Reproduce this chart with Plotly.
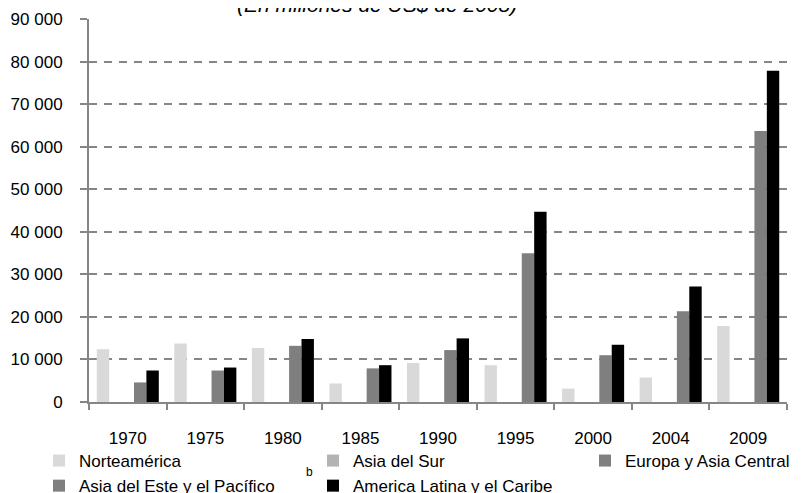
import plotly.graph_objects as go

years = ["1970", "1975", "1980", "1985", "1990", "1995", "2000", "2004", "2009"]
norteamerica = [12400, 13750, 12700, 4350, 9200, 8650, 3150, 5750, 17850]
asia_sur = [0, 0, 0, 0, 0, 0, 0, 0, 0]
europa_asia_central = [0, 0, 0, 0, 0, 0, 0, 0, 0]
asia_este_pacifico = [4600, 7400, 13200, 7900, 12200, 34950, 11000, 21350, 63700]
america_latina = [7400, 8100, 14800, 8650, 14950, 44700, 13450, 27150, 77850]

series = [
    ("Norteamérica", norteamerica, "#d9d9d9", "legend"),
    ("Asia del Sur", asia_sur, "#b3b3b3", "legend2"),
    ("Europa y Asia Central", europa_asia_central, "#808080", "legend3"),
    ("Asia del Este y el Pacífico", asia_este_pacifico, "#7f7f7f", "legend"),
    ("America Latina y el Caribe", america_latina, "#000000", "legend2"),
]

fig = go.Figure()
for name, vals, col, leg in series:
    fig.add_trace(go.Bar(x=years, y=vals, name=name, legend=leg,
                         marker=dict(color=col, line=dict(width=0))))

W, H = 800, 485
axis_col = "#868686"
leg_common = dict(orientation="v", xref="container", yref="container",
                  xanchor="left", yanchor="top", font=dict(size=17),
                  bgcolor="rgba(0,0,0,0)", borderwidth=0, traceorder="normal")
leg_top = 1 - 435 / H
fig.update_layout(
    width=W, height=H,
    margin=dict(l=81, r=21, t=11, b=91, autoexpand=False),
    paper_bgcolor="white", plot_bgcolor="white",
    barmode="group", bargap=0.2, bargroupgap=0,
    separators=". ",
    font=dict(family="Liberation Sans, Arial, sans-serif", size=17, color="#000000"),
    showlegend=True,
    legend=dict(x=31 / W, y=leg_top, **leg_common),
    legend2=dict(x=305 / W, y=leg_top, **leg_common),
    legend3=dict(x=577 / W, y=leg_top, **leg_common),
)
fig.update_yaxes(range=[0, 90000], dtick=10000, tickformat=",d", automargin=False,
                 showline=True, linecolor=axis_col, linewidth=2,
                 ticks="outside", ticklen=7, tickcolor=axis_col, tickwidth=1.5,
                 ticklabelstandoff=14,
                 showgrid=True, gridcolor=axis_col, gridwidth=2, griddash="8px,7px",
                 zeroline=False, tickfont=dict(size=17))
fig.update_xaxes(type="category", showline=True, linecolor=axis_col, linewidth=2,
                 automargin=False,
                 ticks="outside", ticklen=6, tickcolor=axis_col, tickwidth=1.5,
                 tickson="boundaries", ticklabelstandoff=20,
                 showgrid=False, tickfont=dict(size=17))

fig.add_annotation(text="<i>(En millones de US$ de 2008)</i>", xref="paper", yref="paper",
                   x=288 / 698, y=1 + 1 / 383, xanchor="center", yanchor="bottom",
                   showarrow=False, font=dict(size=21))
fig.add_annotation(text="b", xref="paper", yref="paper",
                   x=(301 - 81) / 698, y=-(464 - 394) / 383, xanchor="center", yanchor="middle",
                   showarrow=False, font=dict(size=12))

fig.write_html("out.html")
